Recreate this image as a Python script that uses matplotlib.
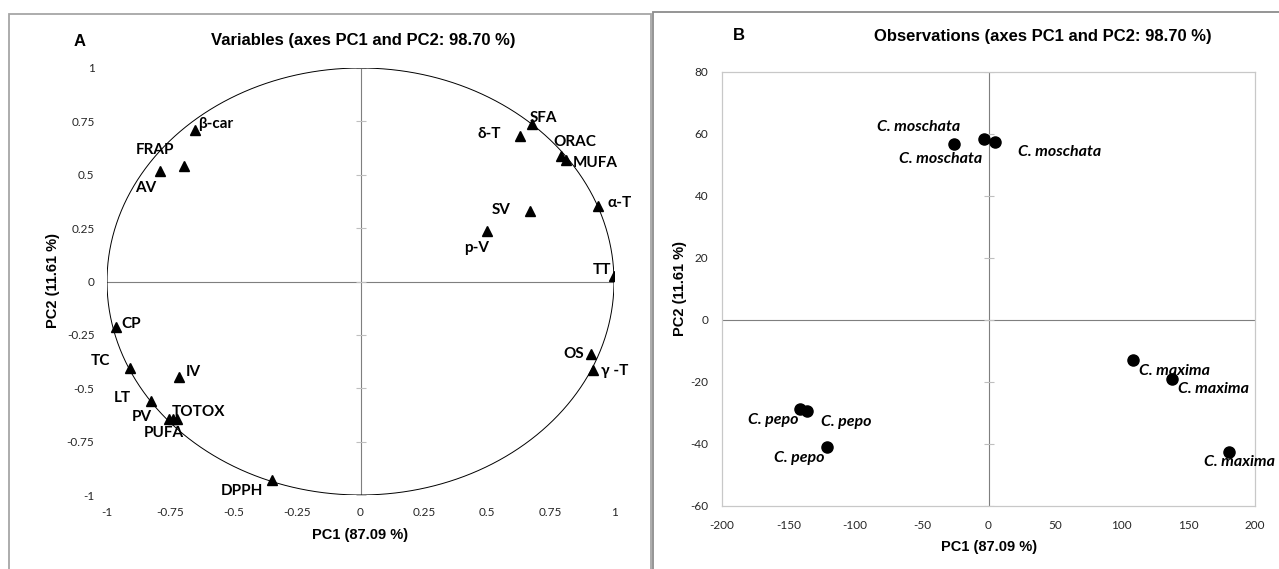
import numpy as np
import matplotlib
matplotlib.use("Agg")
import matplotlib.pyplot as plt
from matplotlib.patches import Rectangle

plt.rcParams["axes.unicode_minus"] = False

# ---------------- data ----------------
var_names = ["β-car", "FRAP", "AV", "SFA", "δ-T", "ORAC", "MUFA", "α-T", "SV", "p-V", "TT",
             "CP", "TC", "IV", "LT", "PV", "TOTOX", "PUFA", "DPPH", "OS", "γ -T"]
var_pc1 = [-0.654, -0.696, -0.789, 0.676, 0.630, 0.791, 0.810, 0.936, 0.670, 0.499, 1.000,
           -0.965, -0.908, -0.717, -0.825, -0.755, -0.725, -0.740, -0.348, 0.908, 0.916]
var_pc2 = [0.708, 0.542, 0.519, 0.738, 0.683, 0.589, 0.567, 0.352, 0.328, 0.238, 0.027,
           -0.213, -0.403, -0.445, -0.559, -0.646, -0.646, -0.646, -0.930, -0.341, -0.413]

obs_names = ["C. moschata", "C. moschata", "C. moschata",
             "C. maxima", "C. maxima", "C. maxima",
             "C. pepo", "C. pepo", "C. pepo"]
obs_pc1 = [-26.0, -3.7, 4.9, 108.4, 137.4, 180.2, -141.4, -136.2, -121.5]
obs_pc2 = [56.7, 58.4, 57.5, -12.8, -18.9, -42.5, -28.6, -29.5, -40.9]

var_ticks = [-1, -0.75, -0.5, -0.25, 0, 0.25, 0.5, 0.75, 1]
var_ticklabels = ["-1", "-0.75", "-0.5", "-0.25", "0", "0.25", "0.5", "0.75", "1"]
obs_xticks = [-200, -150, -100, -50, 0, 50, 100, 150, 200]
obs_yticks = [-60, -40, -20, 0, 20, 40, 60, 80]

title_a = "Variables (axes PC1 and PC2: 98.70 %)"
title_b = "Observations (axes PC1 and PC2: 98.70 %)"
xlab = "PC1 (87.09 %)"
ylab = "PC2 (11.61 %)"

# label offsets (pixels: right, up) – styling only
var_off = [(21, 6), (-29, 16), (-15, -17), (12, 6), (-31, 2), (14, 14), (29, -3), (22, 3),
           (-29, 1), (-10, -17), (-12, 6), (15, 3), (-30, 7), (15, 5), (-29, 3), (-27, 2),
           (22, 7), (-9, -14), (-30, -11), (-17, 0), (22, -1)]
obs_off = [(-13, -15), (-65, 12), (65, -10), (42, -11), (42, -10), (11, -10),
           (-27, -11), (39, -11), (-27, -11)]

# ---------------- figure ----------------
W, H = 1279, 569
fig = plt.figure(figsize=(W / 100, H / 100), dpi=100)
fig.patch.set_facecolor("white")

def fx(px):
    return px / W

def fy(py):
    return 1 - py / H

LAB_FONT = ["Lato", "DejaVu Sans"]
TICK_FONT = ["Lato", "DejaVu Sans"]
TITLE_FONT = ["Liberation Sans", "DejaVu Sans"]
PX = 0.72  # points per pixel

# panel frames
fig.add_artist(Rectangle((fx(9), fy(590)), fx(651) - fx(9), fy(14) - fy(590),
                         transform=fig.transFigure, fill=False, ec="#a6a6a6", lw=1.3))
fig.add_artist(Rectangle((fx(653), fy(590)), fx(1300) - fx(653), fy(12) - fy(590),
                         transform=fig.transFigure, fill=False, ec="#8c8c8c", lw=1.3))

# ---------- panel A ----------
axA = fig.add_axes([fx(107), fy(495), fx(614) - fx(107), fy(68) - fy(495)])
axA.set_xlim(-1, 1)
axA.set_ylim(-1, 1)
for s in axA.spines.values():
    s.set_visible(False)
axA.axhline(0, color="#7f7f7f", lw=0.8, zorder=1)
axA.axvline(0, color="#7f7f7f", lw=0.8, zorder=1)
axA.plot(np.zeros(len(var_ticks)), var_ticks, ls="none", marker="_", ms=7,
         mew=0.8, color="#bfbfbf", zorder=1)
t = np.linspace(0, 2 * np.pi, 400)
axA.plot(np.cos(t), np.sin(t), color="black", lw=0.7, zorder=2)
axA.plot(var_pc1, var_pc2, ls="none", marker="^", ms=6.5, color="black", zorder=3)
for n, x, y, (dx, dy) in zip(var_names, var_pc1, var_pc2, var_off):
    axA.annotate(n, (x, y), xytext=(dx * PX, dy * PX), textcoords="offset points",
                 ha="center", va="center", fontsize=11, fontweight="bold",
                 family=LAB_FONT, zorder=4)
axA.set_xticks(var_ticks)
axA.set_xticklabels(var_ticklabels)
axA.set_yticks(var_ticks)
axA.set_yticklabels(var_ticklabels)
axA.tick_params(length=0, labelsize=8.5, pad=9)
for lbl in axA.get_xticklabels() + axA.get_yticklabels():
    lbl.set_family(TICK_FONT)
    lbl.set_color("#262626")

# ---------- panel B ----------
axB = fig.add_axes([fx(722), fy(506), fx(1255) - fx(722), fy(72) - fy(506)])
axB.set_xlim(-200, 200)
axB.set_ylim(-60, 80)
for s in axB.spines.values():
    s.set_color("#c8c8c8")
    s.set_linewidth(0.9)
axB.axhline(0, color="#7f7f7f", lw=0.8, zorder=1)
axB.axvline(0, color="#7f7f7f", lw=0.8, zorder=1)
axB.plot(np.zeros(len(obs_yticks)), obs_yticks, ls="none", marker="_", ms=7,
         mew=0.8, color="#bfbfbf", zorder=1)
axB.plot(obs_pc1, obs_pc2, ls="none", marker="o", ms=8, color="black", zorder=3)
for n, x, y, (dx, dy) in zip(obs_names, obs_pc1, obs_pc2, obs_off):
    axB.annotate(n, (x, y), xytext=(dx * PX, dy * PX), textcoords="offset points",
                 ha="center", va="center", fontsize=11.5, fontweight="bold",
                 fontstyle="italic", family=LAB_FONT, zorder=4, annotation_clip=False)
axB.set_xticks(obs_xticks)
axB.set_yticks(obs_yticks)
axB.tick_params(length=0, labelsize=8.5, pad=10)
for lbl in axB.get_xticklabels() + axB.get_yticklabels():
    lbl.set_family(TICK_FONT)
    lbl.set_color("#262626")

# ---------- titles & axis labels ----------
fig.text(fx(80), fy(41), "A", ha="center", va="center", fontsize=12,
         fontweight="bold", family=TITLE_FONT)
fig.text(fx(363), fy(41), title_a, ha="center", va="center", fontsize=12,
         fontweight="bold", family=TITLE_FONT)
fig.text(fx(739), fy(36), "B", ha="center", va="center", fontsize=12,
         fontweight="bold", family=TITLE_FONT)
fig.text(fx(1043), fy(36), title_b, ha="center", va="center", fontsize=12,
         fontweight="bold", family=TITLE_FONT)

fig.text(fx(360), fy(535), xlab, ha="center", va="center", fontsize=10.5,
         fontweight="bold", family=TITLE_FONT)
fig.text(fx(989), fy(547), xlab, ha="center", va="center", fontsize=10.5,
         fontweight="bold", family=TITLE_FONT)
fig.text(fx(53), fy(281), ylab, ha="center", va="center", rotation=90, fontsize=10.5,
         fontweight="bold", family=TITLE_FONT)
fig.text(fx(680), fy(289), ylab, ha="center", va="center", rotation=90, fontsize=10.5,
         fontweight="bold", family=TITLE_FONT)

fig.savefig("out.png", dpi=100, facecolor="white")
